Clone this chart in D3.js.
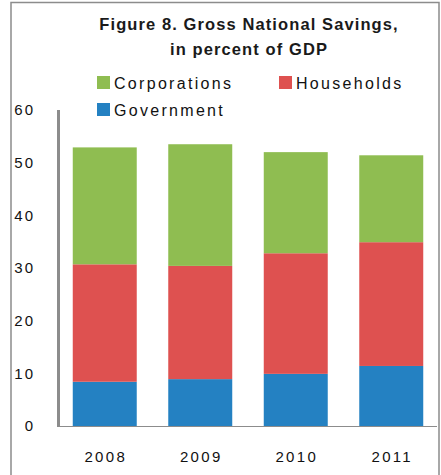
<!DOCTYPE html>
<html><head><meta charset="utf-8">
<script src="https://cdn.jsdelivr.net/npm/d3@7"></script>
<style>body{margin:0;background:#fff}svg{display:block}</style>
</head><body>
<svg id="c" width="441" height="475"></svg>
<script>
const years = ["2008","2009","2010","2011"];
const government = [8.4, 8.9, 9.9, 11.4];
const households = [22.3, 21.5, 22.9, 23.5];
const corporations = [22.2, 23.1, 19.2, 16.5];
const seriesNames = ["Government","Households","Corporations"];
const seriesColors = ["#2481c2","#de5150","#8fbd51"];
const yTicks = [0,10,20,30,40,50,60];
const titleLines = ["Figure 8. Gross National Savings,","in percent of GDP"];

const rows = years.map((y,i)=>({year:y, Government:government[i], Households:households[i], Corporations:corporations[i]}));
const stack = d3.stack().keys(seriesNames)(rows);

const svg = d3.select("#c");
const font = "'Liberation Sans', Arial, sans-serif";

// outer frame
svg.append("path").attr("d","M11,475 V2.5 H439 V475").attr("fill","none").attr("stroke","#8c8c8c").attr("stroke-width",1.5);

const x = d3.scaleBand().domain(years).range([57,439]).paddingInner(0.33).paddingOuter(0.165);
const y = d3.scaleLinear().domain([0,60]).range([426,110]);

svg.append("g").selectAll("g").data(stack).join("g")
  .attr("fill",(d,i)=>seriesColors[i])
  .selectAll("rect").data(d=>d).join("rect")
  .attr("x",d=>x(d.data.year)).attr("width",x.bandwidth())
  .attr("y",d=>y(d[1])).attr("height",d=>y(d[0])-y(d[1]));

// baseline
svg.append("line").attr("x1",57).attr("x2",437).attr("y1",y(0)+0.5).attr("y2",y(0)+0.5).attr("stroke","#8c8c8c").attr("stroke-width",1);
// y axis line
svg.append("line").attr("x1",58.5).attr("x2",58.5).attr("y1",y(60)).attr("y2",y(0)+1).attr("stroke","#8c8c8c").attr("stroke-width",3);

// y tick labels
svg.append("g").selectAll("text").data(yTicks).join("text")
  .attr("x",35).attr("y",d=>y(d)).attr("dy","0.36em").attr("text-anchor","end")
  .attr("font-family",font).attr("font-size",15).attr("letter-spacing",2).attr("fill","#111")
  .text(d=>d);

// x labels
svg.append("g").selectAll("text").data(years).join("text")
  .attr("x",d=>x(d)+x.bandwidth()/2+1).attr("y",462).attr("text-anchor","middle")
  .attr("font-family",font).attr("font-size",15).attr("letter-spacing",2.3).attr("fill","#111")
  .text(d=>d);

// title
svg.append("g").selectAll("text").data(titleLines).join("text")
  .attr("x",249).attr("y",(d,i)=>30+i*25).attr("text-anchor","middle")
  .attr("font-family",font).attr("font-size",16.5).attr("font-weight","bold").attr("letter-spacing",1.1).attr("fill","#1a1a1a")
  .text(d=>d);

// legend
const legendItems = [
  {name:"Corporations", color:seriesColors[2], x:97, y:83},
  {name:"Households", color:seriesColors[1], x:279, y:83},
  {name:"Government", color:seriesColors[0], x:97, y:110}
];
const lg = svg.append("g").selectAll("g").data(legendItems).join("g");
lg.append("rect").attr("x",d=>d.x).attr("y",d=>d.y-7).attr("width",13).attr("height",13).attr("fill",d=>d.color);
lg.append("text").attr("x",d=>d.x+17).attr("y",d=>d.y).attr("dy","0.36em")
  .attr("font-family",font).attr("font-size",16).attr("letter-spacing",2.3).attr("fill","#111")
  .text(d=>d.name);
</script>
</body></html>
